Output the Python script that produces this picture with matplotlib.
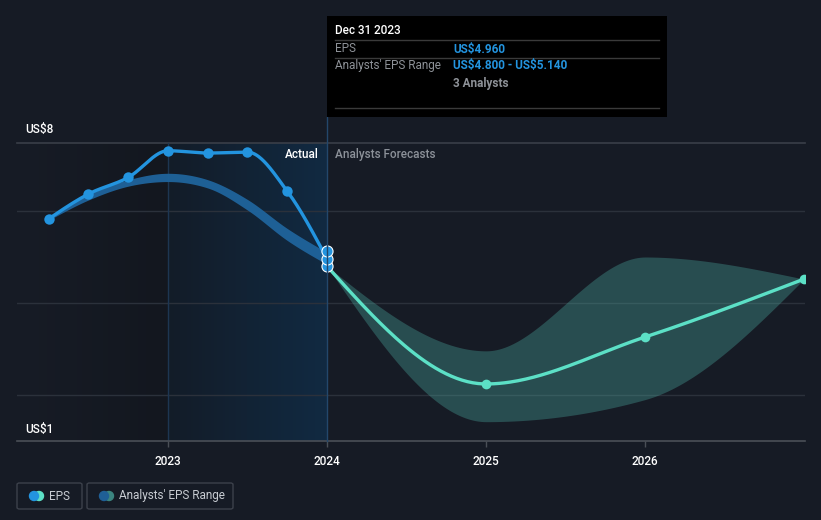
import numpy as np
import matplotlib
matplotlib.use("Agg")
import matplotlib.pyplot as plt
from matplotlib.patches import Rectangle, FancyBboxPatch, Ellipse
from matplotlib.lines import Line2D
from matplotlib.colors import LinearSegmentedColormap

plt.rcParams['font.family'] = ['Roboto', 'DejaVu Sans']
plt.rcParams['text.parse_math'] = False

# ---------------- data ----------------
hist_years = [2022.25, 2022.5, 2022.75, 2023.0, 2023.25, 2023.5, 2023.75, 2024.0]
hist_eps = [5.83, 6.37, 6.73, 7.31, 7.26, 7.28, 6.43, 4.96]

hist_band_upper = [5.86, 6.36, 6.68, 6.82, 6.68, 6.25, 5.62, 5.10]
hist_band_lower = [5.80, 6.24, 6.54, 6.64, 6.50, 6.02, 5.36, 4.84]

marker_2024 = [4.80, 4.96, 5.14]

fc_years = [2024.0, 2025.0, 2026.0, 2027.0]
fc_eps = [4.80, 2.24, 3.26, 4.52]
fc_upper = [4.80, 2.96, 5.00, 4.52]
fc_lower = [4.80, 1.42, 1.90, 4.52]

year_ticks = [2023, 2024, 2025, 2026]
grid_vals = [2, 4, 6]

# ---------------- helpers ----------------
def monotone(xs, ys, n=60):
    x = np.asarray(xs, float); y = np.asarray(ys, float)
    h = np.diff(x); s = np.diff(y) / h
    k = len(x)
    m = np.zeros(k)
    for i in range(1, k - 1):
        p = (s[i - 1] * h[i] + s[i] * h[i - 1]) / (h[i - 1] + h[i])
        m[i] = (np.sign(s[i - 1]) + np.sign(s[i])) * min(abs(s[i - 1]), abs(s[i]), 0.5 * abs(p))
    if k > 2:
        m[0] = (3 * s[0] - m[1]) / 2
        m[-1] = (3 * s[-1] - m[-2]) / 2
    else:
        m[:] = s[0]
    X = []; Y = []
    for i in range(k - 1):
        t = np.linspace(0, 1, n, endpoint=(i == k - 2))
        h00 = 2 * t**3 - 3 * t**2 + 1
        h10 = t**3 - 2 * t**2 + t
        h01 = -2 * t**3 + 3 * t**2
        h11 = t**3 - t**2
        X.append(x[i] + t * h[i])
        Y.append(h00 * y[i] + h10 * h[i] * m[i] + h01 * y[i + 1] + h11 * h[i] * m[i + 1])
    return np.concatenate(X), np.concatenate(Y)

# ---------------- figure ----------------
W, H = 821, 520
BG = '#161b25'
fig = plt.figure(figsize=(W / 100, H / 100), dpi=100, facecolor=BG)
L, R, T, B = 17, 805, 143, 441
ax = fig.add_axes([L / W, 1 - B / H, (R - L) / W, (B - T) / H])
ax.set_facecolor(BG)

ymin = 1.0
ymax = 1.0 + (B - T) / 46.0
px_per_year = 159.0
xmin = 2024 - (327 - L) / px_per_year
xmax = 2024 + (R - 327) / px_per_year

# background gradients
g1 = LinearSegmentedColormap.from_list('g1', ['#171c26', '#13171f'])
g2 = LinearSegmentedColormap.from_list('g2', ['#131c28', '#112a42'])
grad = np.linspace(0, 1, 256).reshape(1, -1)
ax.imshow(grad, cmap=g1, extent=[xmin, 2023, ymin, ymax], aspect='auto', zorder=0, interpolation='bicubic')
ax.imshow(grad, cmap=g2, extent=[2023, 2024, ymin, ymax], aspect='auto', zorder=0, interpolation='bicubic')
ax.set_xlim(xmin, xmax)
ax.set_ylim(ymin, ymax)

# grid
for v in grid_vals:
    ax.axhline(v, color='#2b313b', lw=1, zorder=1)
ax.axhline(ymax, color='#3a3f48', lw=1.2, zorder=1, clip_on=False)
ax.axvline(2023, color='#1d3652', lw=1, zorder=1)

# forecast band
bx, bu = monotone(fc_years, fc_upper)
_, bl = monotone(fc_years, fc_lower)
ax.fill_between(bx, bl, bu, color='#4fb3a8', alpha=0.33, lw=0, zorder=2)

# historical band
hx, hu = monotone(hist_years, hist_band_upper)
_, hl = monotone(hist_years, hist_band_lower)
ax.fill_between(hx, hl, hu, color='#1f649c', alpha=0.95, lw=0, zorder=3)

# historical EPS line
lx, ly = monotone(hist_years, hist_eps)
ax.plot(lx, ly, color='#2394df', lw=2.4, zorder=4, solid_capstyle='round')
ax.plot(hist_years[:-1], hist_eps[:-1], 'o', color='#2394df', ms=7.5, mew=0, zorder=5)

# forecast line
fx, fy = monotone(fc_years, fc_eps)
ax.plot(fx, fy, color='#5ce0c6', lw=2.4, zorder=4, solid_capstyle='round')
ax.plot(fc_years[1:], fc_eps[1:], 'o', color='#5ce0c6', ms=7, mew=0, zorder=5)

# 2024 markers
ax.plot([2024] * len(marker_2024), marker_2024, 'o', color='#2394df', mec='white', mew=0.8, ms=8, zorder=6, clip_on=False)

# spines / ticks
for s in ['top', 'right', 'left']:
    ax.spines[s].set_visible(False)
ax.spines['bottom'].set_color('#4a4f57')
ax.spines['bottom'].set_linewidth(1.2)
ax.set_yticks([])
ax.set_xticks(year_ticks)
ax.set_xticklabels([str(y) for y in year_ticks])
ax.tick_params(axis='x', colors='#4a4f57', length=4, width=1, labelcolor='white', labelsize=8.5, pad=6)
for lab in ax.get_xticklabels():
    lab.set_fontweight('medium')

# 2024 vertical line extending to tooltip
fig.add_artist(Line2D([327 / W, 327 / W], [1 - B / H, 1 - 117 / H], color='#23476b', lw=1, zorder=1))

# y labels
fig.text(25 / W, 1 - 130 / H, 'US$8', color='white', fontsize=8.5, va='center', ha='left', fontweight='medium')
fig.text(25 / W, 1 - 430 / H, 'US$1', color='white', fontsize=8.5, va='center', ha='left', fontweight='medium')

# Actual / Analysts Forecasts
fig.text(319 / W, 1 - 154 / H, 'Actual', color='white', fontsize=8.5, va='center', ha='right', fontweight='medium')
fig.text(335 / W, 1 - 154 / H, 'Analysts Forecasts', color='#8c9199', fontsize=8.5, va='center', ha='left', fontweight='medium')

# tooltip
fig.add_artist(Rectangle((327 / W, 1 - 117 / H), 340 / W, 101 / H, transform=fig.transFigure,
                         facecolor='#000000', edgecolor='none', zorder=10))
for yy in [40, 58, 108]:
    fig.add_artist(Line2D([335 / W, 659 / W], [1 - yy / H, 1 - yy / H], color='#3a3a3a', lw=1, zorder=11))
fig.text(335 / W, 1 - 30 / H, 'Dec 31 2023', color='white', fontsize=8.5, va='center', ha='left', zorder=12, fontweight='medium')
fig.text(335 / W, 1 - 49 / H, 'EPS', color='#8e9298', fontsize=8.5, va='center', ha='left', zorder=12)
fig.text(453 / W, 1 - 49 / H, 'US$4.960', color='#2394df', fontsize=8.5, va='center', ha='left', zorder=12, fontweight='bold')
fig.text(335 / W, 1 - 66 / H, "Analysts' EPS Range", color='#8e9298', fontsize=8.5, va='center', ha='left', zorder=12)
fig.text(453 / W, 1 - 66 / H, 'US$4.800 - US$5.140', color='#2394df', fontsize=8.5, va='center', ha='left', zorder=12, fontweight='bold')
fig.text(453 / W, 1 - 83 / H, '3 Analysts', color='#8e9298', fontsize=8.5, va='center', ha='left', zorder=12, fontweight='bold')

# legend
def legbox(x0, x1, c1, c2, label):
    fig.add_artist(FancyBboxPatch((x0 / W, 1 - 509 / H), (x1 - x0) / W, 26 / H,
                                  boxstyle='round,pad=0,rounding_size=0.003', transform=fig.transFigure,
                                  facecolor='none', edgecolor='#3c414b', lw=1))
    cy = 1 - 496 / H
    r = 4.5
    fig.add_artist(Ellipse(((x0 + 22) / W, cy), 2 * r / W, 2 * r / H, transform=fig.transFigure, color=c2, zorder=5))
    fig.add_artist(Ellipse(((x0 + 17) / W, cy), 2 * r / W, 2 * r / H, transform=fig.transFigure, color=c1, zorder=6))
    fig.text((x0 + 32) / W, cy, label, color='#c8ccd2', fontsize=8.5, va='center', ha='left')

legbox(17, 82, '#2394df', '#5ce0c6', 'EPS')
legbox(87, 233, '#1f5f96', '#3b8580', "Analysts' EPS Range")

fig.savefig('out.png', dpi=100, facecolor=BG)
